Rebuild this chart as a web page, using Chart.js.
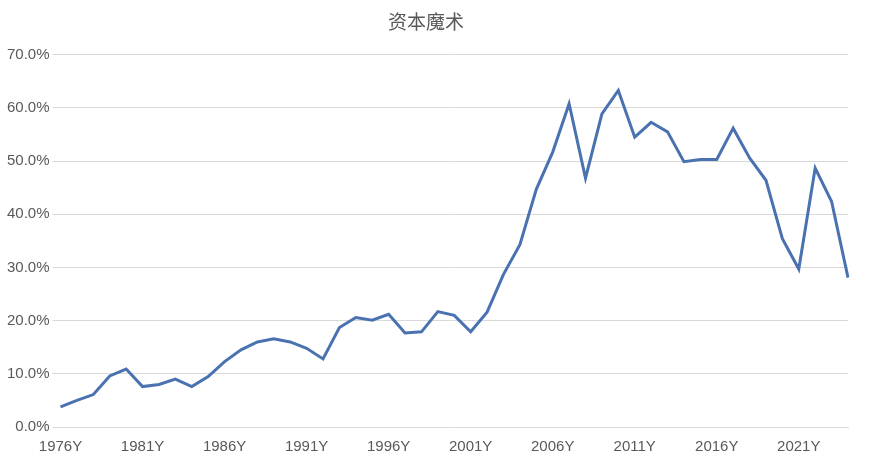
<!DOCTYPE html>
<html><head><meta charset="utf-8">
<script src="https://cdn.jsdelivr.net/npm/chart.js@4"></script>
<style>body{margin:0;background:#fff}#w{width:883px;height:465px}</style>
</head><body><div id="w"><canvas id="c"></canvas></div>
<script>
const years = [];
for (let y = 1976; y <= 2024; y++) years.push(y + 'Y');
const values = [3.8,5.0,6.1,9.6,10.9,7.6,8.0,9.0,7.6,9.5,12.3,14.5,16.0,16.6,16.0,14.8,12.8,18.7,20.6,20.1,21.2,17.7,17.9,21.7,21.0,17.9,21.6,28.7,34.3,44.7,51.7,60.8,46.8,58.9,63.3,54.5,57.3,55.5,49.9,50.3,50.3,56.2,50.6,46.4,35.4,29.7,48.7,42.4,28.1];
const title = '资本魔术';
new Chart(document.getElementById('c'), {
  type: 'line',
  data: { labels: years, datasets: [{ data: values, borderColor: '#4a72b0', borderWidth: 3, pointRadius: 0, tension: 0 }] },
  options: {
    responsive: true, maintainAspectRatio: false, animation: false,
    layout: { padding: { left: 4, right: 35, top: 4, bottom: 6 } },
    plugins: { legend: { display: false }, tooltip: { enabled: false },
      title: { display: true, text: title, color: '#595959', font: { size: 19, weight: 'normal', family: 'Noto Sans CJK SC' }, padding: { top: 6, bottom: 22 } } },
    scales: {
      x: { offset: false, grid: { display: false }, border: { color: '#d9d9d9' },
        ticks: { color: '#595959', font: { size: 15, family: 'Liberation Sans' }, maxRotation: 0, autoSkip: false,
          callback: (v, i) => i % 5 === 0 ? years[i] : '' } },
      y: { min: 0, max: 70, grid: { color: '#d9d9d9' }, border: { display: false },
        ticks: { stepSize: 10, color: '#595959', font: { size: 15, family: 'Liberation Sans' }, callback: v => v.toFixed(1) + '%' } }
    }
  }
});
</script></body></html>
